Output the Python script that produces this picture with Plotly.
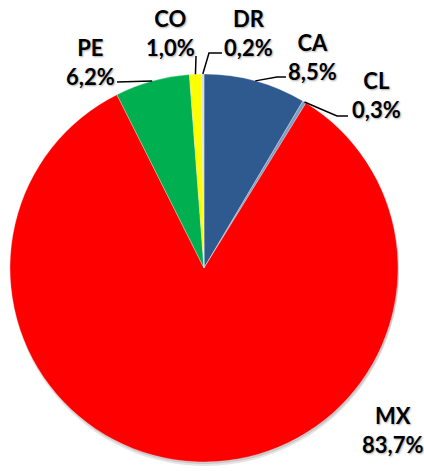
import plotly.graph_objects as go
import math

# ---- data ----
labels = ["CA", "CL", "MX", "PE", "CO", "DR"]
values = [8.5, 0.3, 83.7, 6.2, 1.0, 0.2]
value_text = ["8,5%", "0,3%", "83,7%", "6,2%", "1,0%", "0,2%"]
colors = ["#2F5A8F", "#7F9CC2", "#FF0000", "#00B050", "#FFFF00", "#D3DCE6"]

# ---- layout geometry (pixels) ----
W, H = 424, 471
CX, CY, R = 204, 268, 194

# label text centres and leader-line elbows (pixels)
label_pos = {
    "CA": (312, 57), "CL": (376, 95), "MX": (392, 430),
    "PE": (90, 62), "CO": (170, 33), "DR": (248, 33),
}
leader_pts = {
    "CA": [(277, 77), (286, 77)],
    "CL": [(337, 116), (348, 116)],
    "PE": [(117, 82)],
    "CO": [(196, 56)],
    "DR": [(209, 53), (222, 53)],
}


def px(x):
    return x / W


def py(y):
    return 1 - y / H


fig = go.Figure()
# soft drop shadow under the pie
for dy, alpha in [(4, 0.10), (2, 0.12)]:
    fig.add_trace(go.Pie(
        labels=labels, values=values, sort=False, direction="clockwise",
        rotation=0, textinfo="none", hoverinfo="skip",
        marker=dict(colors=[f"rgba(0,0,0,{alpha})"] * len(values), line=dict(width=0)),
        domain=dict(x=[px(CX - R + 1), px(CX + R + 1)], y=[py(CY + R + dy), py(CY - R + dy)]),
        showlegend=False,
    ))
fig.add_trace(go.Pie(
    labels=labels, values=values, sort=False, direction="clockwise",
    rotation=0, textinfo="none", hoverinfo="label+percent",
    marker=dict(colors=colors, line=dict(color="rgba(255,255,255,0.5)", width=0.6)),
    domain=dict(x=[px(CX - R), px(CX + R)], y=[py(CY + R), py(CY - R)]),
    showlegend=False,
))

total = sum(values)
cum = 0.0
shapes = []
annotations = []
for lab, v, t in zip(labels, values, value_text):
    mid = (cum + v / 2) / total
    cum += v
    ang = 2 * math.pi * mid
    ex, ey = CX + R * math.sin(ang), CY - R * math.cos(ang)
    if lab in leader_pts:
        pts = [(ex, ey)] + leader_pts[lab]
        path = "M " + " L ".join(f"{px(a):.4f},{py(b):.4f}" for a, b in pts)
        shapes.append(dict(type="path", xref="paper", yref="paper", path=path,
                           line=dict(color="black", width=1.5)))
    lx, ly = label_pos[lab]
    annotations.append(dict(
        x=px(lx), y=py(ly), xref="paper", yref="paper", showarrow=False,
        text=f"<b>{lab}</b><br><b>{t}</b>", align="center",
        xanchor="center", yanchor="middle",
        font=dict(family="Lato", size=22, color="black",
                  shadow="1px 1px 2px rgba(0,0,0,0.35)"),
    ))

fig.update_layout(
    width=W, height=H, margin=dict(l=0, r=0, t=0, b=0),
    paper_bgcolor="white", plot_bgcolor="white",
    shapes=shapes, annotations=annotations,
)
fig.write_html("out.html", config={"displayModeBar": False},
               post_script="document.body.style.margin='0';document.body.style.overflow='hidden';")
